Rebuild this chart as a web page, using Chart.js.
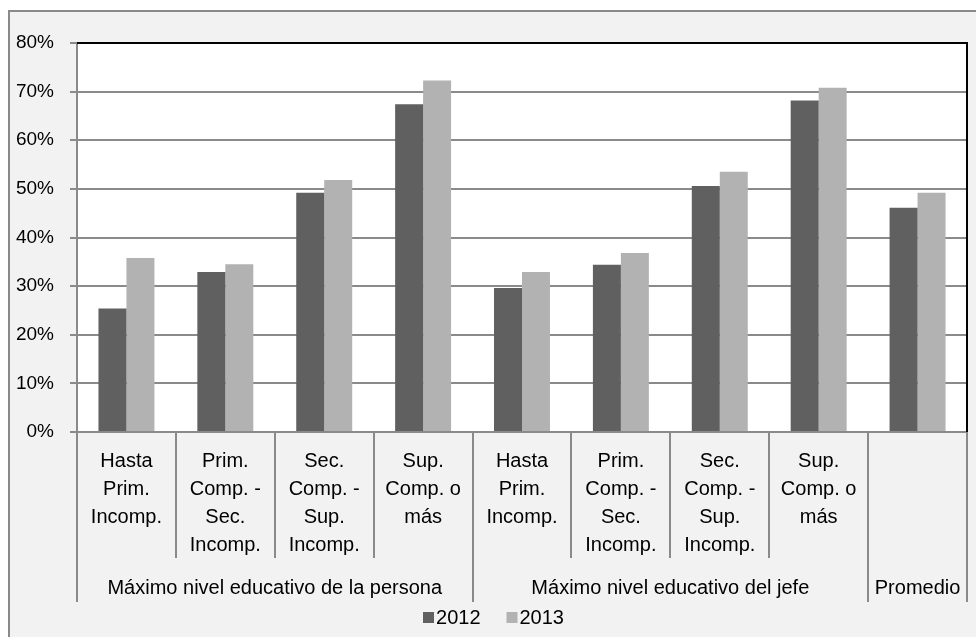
<!DOCTYPE html>
<html>
<head>
<meta charset="utf-8">
<script src="https://cdn.jsdelivr.net/npm/chart.js@4/dist/chart.umd.min.js"></script>
<style>
  html, body { margin: 0; padding: 0; background: #ffffff; }
  #wrap { width: 976px; height: 637px; }
</style>
</head>
<body>
<div id="wrap"><canvas id="c" width="976" height="637"></canvas></div>
<script>
// ---- data ----
const categories = [
  ['Hasta', 'Prim.', 'Incomp.'],
  ['Prim.', 'Comp. -', 'Sec.', 'Incomp.'],
  ['Sec.', 'Comp. -', 'Sup.', 'Incomp.'],
  ['Sup.', 'Comp. o', 'más'],
  ['Hasta', 'Prim.', 'Incomp.'],
  ['Prim.', 'Comp. -', 'Sec.', 'Incomp.'],
  ['Sec.', 'Comp. -', 'Sup.', 'Incomp.'],
  ['Sup.', 'Comp. o', 'más'],
  ['']
];
const groupLabels = ['Máximo nivel educativo de la persona', 'Máximo nivel educativo del jefe', 'Promedio'];
const groupStart = [0, 4, 8];
const groupEnd = [3, 7, 8];
const seriesNames = ['2012', '2013'];
const values2012 = [25.4, 32.9, 49.2, 67.4, 29.6, 34.4, 50.6, 68.2, 46.1];
const values2013 = [35.8, 34.5, 51.8, 72.3, 32.9, 36.8, 53.5, 70.8, 49.2];
const yTicks = [0, 10, 20, 30, 40, 50, 60, 70, 80];

const FONT = 'Liberation Sans, Arial, sans-serif';
const GRID = '#8a8a8a';

const framePlugin = {
  id: 'frame',
  beforeDraw(chart) {
    const ctx = chart.ctx, a = chart.chartArea;
    ctx.save();
    ctx.fillStyle = '#ffffff';
    ctx.fillRect(0, 0, chart.width, chart.height);
    ctx.fillStyle = '#f2f2f2';
    ctx.fillRect(8, 10, chart.width - 8, chart.height - 10);
    ctx.strokeStyle = GRID;
    ctx.lineWidth = 2;
    ctx.beginPath();
    ctx.moveTo(9, chart.height); ctx.lineTo(9, 11); ctx.lineTo(chart.width, 11);
    ctx.stroke();
    ctx.fillStyle = '#ffffff';
    ctx.fillRect(a.left, a.top, a.right - a.left, a.bottom - a.top);
    ctx.restore();
  },
  afterDraw(chart) {
    const ctx = chart.ctx, a = chart.chartArea, xs = chart.scales.x;
    ctx.save();
    // plot area top/right border
    ctx.strokeStyle = '#000000';
    ctx.lineWidth = 2;
    ctx.beginPath();
    ctx.moveTo(a.left, a.top); ctx.lineTo(a.right, a.top); ctx.lineTo(a.right, a.bottom);
    ctx.stroke();
    // group separators and labels
    const half = (xs.getPixelForValue(1) - xs.getPixelForValue(0)) / 2;
    ctx.strokeStyle = GRID;
    ctx.lineWidth = 2;
    ctx.fillStyle = '#000000';
    ctx.font = '20px ' + FONT;
    ctx.textAlign = 'center';
    ctx.textBaseline = 'middle';
    for (let g = 0; g < groupLabels.length; g++) {
      const x0 = xs.getPixelForValue(groupStart[g]) - half;
      const x1 = xs.getPixelForValue(groupEnd[g]) + half;
      ctx.beginPath();
      ctx.moveTo(Math.round(x0), a.bottom); ctx.lineTo(Math.round(x0), 602);
      ctx.moveTo(Math.round(x1), a.bottom); ctx.lineTo(Math.round(x1), 602);
      ctx.stroke();
      ctx.fillText(groupLabels[g], (x0 + x1) / 2, 588);
    }
    // legend
    const ds = chart.data.datasets;
    const box = 11, gapBox = 2, gapItem = 26;
    const widths = ds.map(d => ctx.measureText(d.label).width);
    let total = 0;
    widths.forEach((w, i) => { total += box + gapBox + w + (i < widths.length - 1 ? gapItem : 0); });
    let x = 493.5 - total / 2;
    ctx.textAlign = 'left';
    ds.forEach((d, i) => {
      ctx.fillStyle = d.backgroundColor;
      ctx.fillRect(x, 612, box, box);
      ctx.fillStyle = '#000000';
      ctx.fillText(d.label, x + box + gapBox, 618.5);
      x += box + gapBox + widths[i] + gapItem;
    });
    ctx.restore();
  }
};

new Chart(document.getElementById('c'), {
  type: 'bar',
  data: {
    labels: categories,
    datasets: [
      { label: seriesNames[0], data: values2012, backgroundColor: '#606060', borderWidth: 0,
        categoryPercentage: 0.566, barPercentage: 1.0 },
      { label: seriesNames[1], data: values2013, backgroundColor: '#b2b2b2', borderWidth: 0,
        categoryPercentage: 0.566, barPercentage: 1.0 }
    ]
  },
  options: {
    responsive: false,
    animation: false,
    devicePixelRatio: 1,
    layout: { padding: { left: 0, top: 43, right: 9, bottom: 0 } },
    plugins: { legend: { display: false }, tooltip: { enabled: false }, title: { display: false } },
    scales: {
      x: {
        offset: true,
        grid: { offset: true, drawOnChartArea: false, drawTicks: true, tickLength: 126, color: GRID, lineWidth: 2 },
        border: { display: true, color: GRID, width: 2 },
        ticks: { autoSkip: false, maxRotation: 0, minRotation: 0, padding: -110, color: '#000000',
                 font: { family: FONT, size: 20, lineHeight: 1.39 } },
        afterFit(scale) { scale.height = 205; }
      },
      y: {
        min: 0, max: 80,
        afterBuildTicks(scale) { scale.ticks = yTicks.map(v => ({ value: v })); },
        grid: { color: GRID, lineWidth: 2, tickLength: 7, drawTicks: true },
        border: { display: true, color: GRID, width: 2 },
        ticks: { padding: 16, color: '#000000', font: { family: FONT, size: 19 },
                 callback: v => v + '%' },
        afterFit(scale) { scale.width = 77; }
      }
    }
  },
  plugins: [framePlugin]
});
</script>
</body>
</html>
